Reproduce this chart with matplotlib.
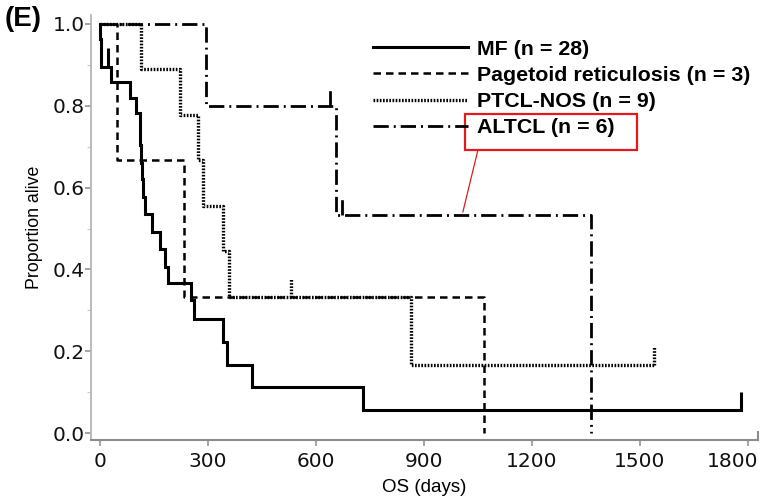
import matplotlib
matplotlib.use("Agg")
from matplotlib import pyplot as plt
from matplotlib import transforms
from matplotlib.patches import Rectangle

# Kaplan-Meier steps: (day of drop, proportion alive after it)
mf_days = [0, 0, 2, 4, 30, 82, 101, 110, 112, 114, 117, 119, 125, 144, 167, 181,
           190, 253, 262, 342, 352, 421, 731, 1782]
mf_surv = [1.0, 0.964, 0.929, 0.896, 0.859, 0.819, 0.782, 0.745, 0.705, 0.661,
           0.620, 0.577, 0.535, 0.491, 0.449, 0.407, 0.366, 0.325, 0.280, 0.223,
           0.166, 0.113, 0.056, 0.056]
mf_cens = [22, 1782]
mf_cens_surv = [0.896, 0.056]

pag_days = [0, 46, 234, 1068]
pag_surv = [1.0, 0.667, 0.333, 0.0]

ptcl_days = [0, 113, 222, 273, 287, 341, 357, 864, 1539]
ptcl_surv = [1.0, 0.889, 0.778, 0.667, 0.556, 0.444, 0.333, 0.167, 0.167]
ptcl_cens = [532, 1539]
ptcl_cens_surv = [0.333, 0.167]

altcl_days = [0, 294, 657, 1363]
altcl_surv = [1.0, 0.80, 0.533, 0.0]
altcl_cens = [639, 671]
altcl_cens_surv = [0.80, 0.533]

labels = ["MF (n = 28)", "Pagetoid reticulosis (n = 3)", "PTCL-NOS (n = 9)",
          "ALTCL (n = 6)"]
x_ticks = [0, 300, 600, 900, 1200, 1500, 1800]
y_ticks = [0.0, 0.2, 0.4, 0.6, 0.8, 1.0]

TICK = 0.045  # height of censoring marks
RED = "#e31a1c"
AXGREY = "#8c8c8c"

styles = [
    dict(ls="-", lw=2.2),
    dict(ls=(0, (3, 2)), lw=1.8),
    dict(ls=(0, (0.5, 0.45)), lw=2.4),
    dict(ls=(0, (5.5, 1.8, 0.7, 1.8)), lw=2.0),
]

fig = plt.figure(figsize=(7.62, 5.0), dpi=100)
ax = fig.add_axes([91 / 762, 60 / 500, 667 / 762, 425 / 500])

curves = [(mf_days, mf_surv, mf_cens, mf_cens_surv),
          (pag_days, pag_surv, [], []),
          (ptcl_days, ptcl_surv, ptcl_cens, ptcl_cens_surv),
          (altcl_days, altcl_surv, altcl_cens, altcl_cens_surv)]
for (d, s, c, cs), st, lab in zip(curves, styles, labels):
    ax.step(d, s, where="post", color="black", label=lab,
            solid_joinstyle="miter", **st)
    if c:
        ax.vlines(c, cs, [v + TICK for v in cs], color="black",
                  linestyles=[st["ls"]], lw=st["lw"])

ax.set_xlim(-25, 1828)
ax.set_ylim(-0.017, 1.022)
for side in ("top", "right"):
    ax.spines[side].set_visible(False)
ax.spines["left"].set_color("#b5b5b5")
ax.spines["bottom"].set_color(AXGREY)
ax.spines["left"].set_linewidth(1.3)
ax.spines["bottom"].set_linewidth(1.5)
# little end cap on the right of the x axis
ax.plot([1, 1], [0, 0.018], transform=ax.transAxes, color=AXGREY, lw=1.5,
        clip_on=False)

ax.set_xticks(x_ticks)
ax.set_yticks(y_ticks)
ax.set_yticklabels([f"{v:.1f}" for v in y_ticks])
ax.set_yticks([0.1, 0.3, 0.5, 0.7, 0.9], minor=True)
ax.tick_params(axis="both", which="major", length=4, width=1.1, color=AXGREY,
               labelsize=14.5, labelcolor="#111111")
ax.tick_params(axis="x", which="major", pad=4.5)
ax.tick_params(axis="y", which="major", pad=0.5)
ax.tick_params(axis="y", which="minor", length=3, width=0.8, color="#cccccc")
# last x label sits a bit left of its tick so it stays inside the figure
shift = transforms.ScaledTranslation(-15 / 100, 0, fig.dpi_scale_trans)
last = ax.get_xticklabels()[-1]
last.set_transform(last.get_transform() + shift)

ax.set_xlabel("OS (days)", fontsize=13.5, family="Liberation Sans", labelpad=6)
ax.set_ylabel("Proportion alive", fontsize=12.8, family="Liberation Sans",
              labelpad=7)

leg = ax.legend(loc="upper left", bbox_to_anchor=(0.423, 0.942), frameon=False,
                borderpad=0, borderaxespad=0, handlelength=4.45,
                handletextpad=0.42, labelspacing=0.34,
                prop=dict(family="Liberation Sans", size=15.4, weight="bold"))

# red highlight box around the ALTCL entry, with a pointer to its curve
ax.add_patch(Rectangle((0.561, 0.682), 0.258, 0.085, transform=ax.transAxes,
                       fill=False, ec=RED, lw=1.6, clip_on=False))
ax.annotate("", xy=(1008, 0.54), xycoords="data", xytext=(0.58, 0.682),
            textcoords="axes fraction",
            arrowprops=dict(arrowstyle="-", color=RED, lw=0.9,
                            shrinkA=0, shrinkB=0))

fig.text(5 / 762, 1 - 19 / 500, "(E)", fontsize=20, fontweight="bold",
         family="Liberation Sans", va="center", ha="left")

fig.savefig("out.png", dpi=100)
